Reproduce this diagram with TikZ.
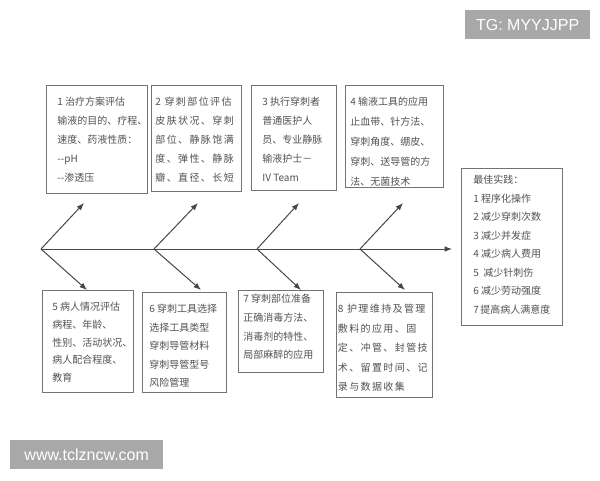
\documentclass[tikz,border=0pt]{standalone}
\usepackage{fontspec}
\newfontfamily\cjk{Noto Sans CJK SC}
\newfontfamily\cjkwide{Noto Sans CJK SC}[LetterSpace=14]
\newfontfamily\wmfont{Liberation Sans}
\usetikzlibrary{arrows.meta}
\definecolor{boxline}{gray}{0.45}
\definecolor{bonegray}{gray}{0.28}
\definecolor{textgray}{gray}{0.32}
\definecolor{markgray}{gray}{0.66}
\tikzset{>={Latex[length=2.6mm,width=2mm]}}
\tikzset{
  box/.style={draw=boxline, line width=0.8pt, anchor=north west,
    inner ysep=12pt, inner xsep=#1, text=textgray,
    font=\cjk\fontsize{10}{19}\selectfont},
  box/.default=7pt,
  bone/.style={draw=bonegray, line width=1pt, ->},
  wmark/.style={fill=markgray, text=white, anchor=north west,
    inner sep=0pt, font=\wmfont\fontsize{16}{16}\selectfont}
}
\newcommand{\celltext}[3]{\parbox[t][#1][t]{#2}{#3}}

\begin{document}
\begin{tikzpicture}[x=1pt, y=-1pt]
\useasboundingbox (0,0) rectangle (600,480);
\fill[white] (0,0) rectangle (600,480);
%spine and bones
\coordinate (head) at (452,249);
\draw[bone] (41,249) coordinate (j1) -- (head);
\foreach \i/\x/\ux/\dx in {1/41/84/87, 2/154/198/201, 3/257/299/301, 4/360/403/405} {
  \coordinate (j\i) at (\x,249);
  \coordinate (up\i) at (\ux,203);
  \coordinate (dn\i) at (\dx,290);
  \draw[bone] (j\i) -- (up\i);
  \draw[bone] (j\i) -- (dn\i);
}
%upper causes
\node[box=11pt] (cause1) at (46,85) {\celltext{84pt}{79pt}{1~治疗方案评估\\输液的目的、疗程、\\速度、药液性质：\\-{}-pH\\-{}-渗透压}};
\node[box=4pt, font=\cjkwide\fontsize{10}{19}\selectfont] (cause2) at (151,85) {\celltext{82pt}{82pt}{2~穿刺部位评估\\皮肤状况、穿刺\\部位、静脉饱满\\度、弹性、静脉\\瓣、直径、长短}};
\node[box=11pt] (cause3) at (251,85) {\celltext{81pt}{63pt}{3~执行穿刺者\\普通医护人\\员、专业静脉\\输液护士－\\IV~Team}};
\node[box=5pt, font=\cjk\fontsize{10}{20}\selectfont] (cause4) at (345,85) {\celltext{78pt}{88pt}{4~输液工具的应用\\止血带、针方法、\\穿刺角度、绷皮、\\穿刺、送导管的方\\法、无菌技术}};
%lower causes
\node[box=10pt, font=\cjk\fontsize{10}{17.7}\selectfont] (cause5) at (42,290) {\celltext{78pt}{71pt}{5~病人情况评估\\病程、年龄、\\性别、活动状况、\\病人配合程度、\\教育}};
\node[box=7pt, font=\cjk\fontsize{10}{18.5}\selectfont] (cause6) at (142,292) {\celltext{76pt}{70pt}{6~穿刺工具选择\\选择工具类型\\穿刺导管材料\\穿刺导管型号\\风险管理}};
\node[box=5pt, inner ysep=4pt, font=\cjk\fontsize{10}{18.7}\selectfont] (cause7) at (238,290) {\celltext{74pt}{75pt}{7~穿刺部位准备\\正确消毒方法、\\消毒剂的特性、\\局部麻醉的应用}};
\node[box=1.5pt, font=\cjkwide\fontsize{10}{19.5}\selectfont] (cause8) at (336,292) {\celltext{81pt}{93pt}{8~护理维持及管理\\敷料的应用、固\\定、冲管、封管技\\术、留置时间、记\\录与数据收集}};
%effect
\node[box=12pt, inner ysep=7pt, font=\cjk\fontsize{10}{18.5}\selectfont] (best) at (461,168) {\celltext{143pt}{77pt}{最佳实践：\\1~程序化操作\\2~减少穿刺次数\\3~减少并发症\\4~减少病人费用\\5~~减少针刺伤\\6~减少劳动强度\\7~提高病人满意度}};
%watermarks
\node[wmark, minimum width=125pt, minimum height=29pt] (tag) at (465,10) {TG: MYYJJPP};
\node[wmark, minimum width=153pt, minimum height=29pt] (site) at (10,440) {www.tclzncw.com};
\end{tikzpicture}
\end{document}
